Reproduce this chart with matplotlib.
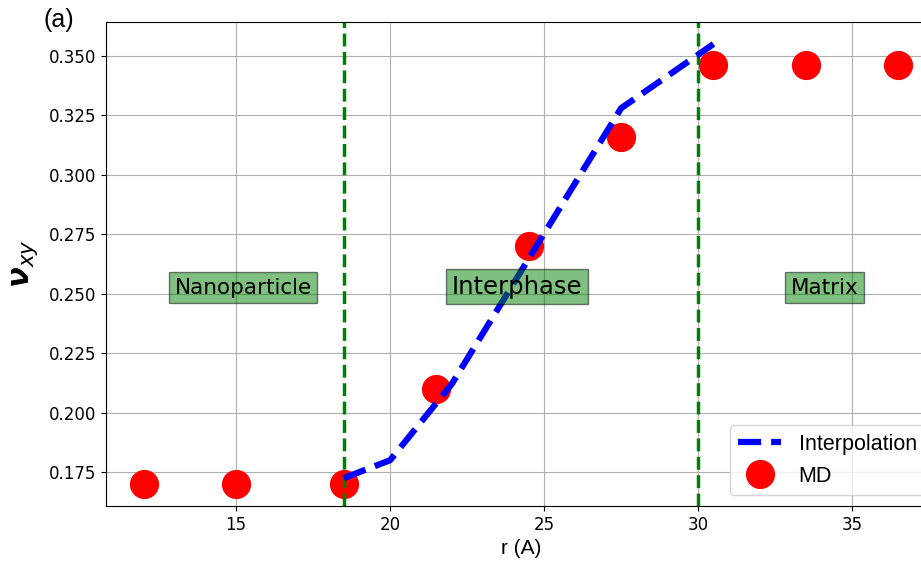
import matplotlib
matplotlib.use("Agg")
import matplotlib.pyplot as plt

# Data
md_r = [12, 15, 18.5, 21.5, 24.5, 27.5, 30.5, 33.5, 36.5]
md_nu = [0.170, 0.170, 0.170, 0.210, 0.270, 0.316, 0.346, 0.346, 0.346]
interp_r = [18.5, 20, 22, 27.5, 30.5]
interp_nu = [0.1725, 0.180, 0.212, 0.328, 0.355]
boundaries = [18.5, 30]
region_labels = ["Nanoparticle", "Interphase", "Matrix"]
region_x = [13, 22, 33]
region_y = 0.25
region_sizes = [15.5, 17.5, 15.5]

fig = plt.figure(figsize=(9.21, 5.61), dpi=100)
ax = fig.add_axes([106/921, 55/561, 830/921, 484/561])

ax.plot(interp_r, interp_nu, color='blue', linestyle='--', linewidth=4.5,
        label='Interpolation', zorder=2.5)
ax.plot(md_r, md_nu, 'o', color='red', markersize=20, label='MD', zorder=2)
for b in boundaries:
    ax.axvline(b, color='green', linestyle='--', linewidth=2.5, zorder=2.2)

for lab, x, fs in zip(region_labels, region_x, region_sizes):
    ax.text(x, region_y, lab, fontsize=fs, ha='left', va='baseline',
            bbox=dict(facecolor='green', alpha=0.5))

ax.grid(True)
ax.tick_params(labelsize=12)
ax.set_xlim(10.775, 37.725)
ax.set_ylim(0.16075, 0.36425)
ax.set_xticks([15, 20, 25, 30, 35])
yt = [0.175, 0.200, 0.225, 0.250, 0.275, 0.300, 0.325, 0.350]
ax.set_yticks(yt)
ax.set_yticklabels([f"{v:.3f}" for v in yt])

ax.set_xlabel('r (A)', fontsize=15, family='Liberation Sans', labelpad=4)
ax.set_ylabel(r'$\boldsymbol{\nu}_{xy}$', fontsize=22, labelpad=6)

ax.legend(loc='lower right', prop={'family': 'Liberation Sans', 'size': 15.5})

fig.text(43/921, 1 - 20/561, '(a)', fontsize=18, family='Liberation Sans',
         ha='left', va='center')

fig.savefig('out.png', dpi=100)
